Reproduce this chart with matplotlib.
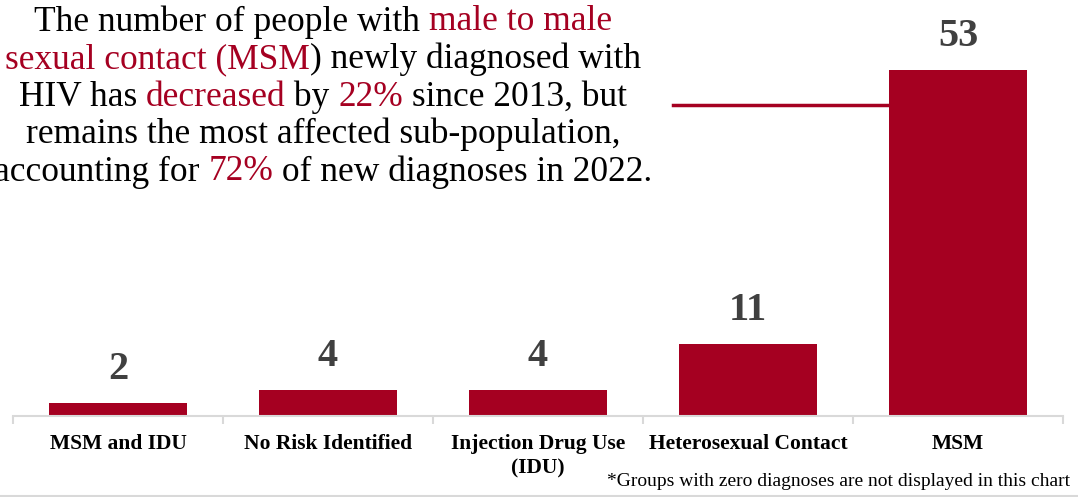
import matplotlib.pyplot as plt
from matplotlib.lines import Line2D

# ----------------------------------------------------------
# data
# ----------------------------------------------------------
categories = ["MSM and IDU", "No Risk Identified", "Injection Drug Use\n(IDU)",
              "Heterosexual Contact", "MSM"]
diagnoses = [2, 4, 4, 11, 53]

RED = "#A50021"
GRAY = "#404040"
SERIF = ["Liberation Serif", "DejaVu Serif"]

# narrative text, split into (text, colour) pieces per line
story = [
    [("The number of people with ", "black"), ("male to male", RED)],
    [("sexual contact (MSM", RED), (") newly diagnosed with", "black")],
    [("HIV has ", "black"), ("decreased", RED), (" by ", "black"),
     ("22%", RED), (" since 2013, but", "black")],
    [("remains the most affected sub-population,", "black")],
    [("accounting for ", "black"), ("72%", RED), (" of new diagnoses in 2022.", "black")],
]

W, H = 1078, 497
fig = plt.figure(figsize=(W / 100, H / 100), dpi=100)

# axes placed in pixel terms: baseline at y=416, categories 210 px apart
ax = fig.add_axes([13 / W, (H - 416) / H, 1050 / W, 416 / H])
x = range(len(categories))
ax.bar(x, diagnoses, width=0.655, color=RED)
ax.set_xlim(-0.5, len(categories) - 0.5)
ax.set_ylim(0, 416 / 6.53)

for i, v in enumerate(diagnoses):
    ax.text(i, v + 2.3, str(v), ha="center", va="bottom", fontsize=29,
            fontweight="bold", color=GRAY, family=SERIF)

for s in ["top", "right", "left"]:
    ax.spines[s].set_visible(False)
ax.spines["bottom"].set_color("#D9D9D9")
ax.spines["bottom"].set_linewidth(1.5)
ax.set_yticks([])
ax.set_xticks([i - 0.5 for i in range(len(categories) + 1)])
ax.set_xticklabels([])
ax.tick_params(axis="x", length=6, width=1.5, color="#D9D9D9")
ax.set_xticks(list(x), minor=True)
ax.set_xticklabels(categories, minor=True, fontsize=15.5, fontweight="bold",
                   family=SERIF, linespacing=1.3)
ax.tick_params(axis="x", which="minor", length=0, pad=13)

# callout line towards the MSM bar
fig.add_artist(Line2D([673 / W, 889 / W], [(H - 105) / H] * 2,
                      color=RED, linewidth=2.5))

# bottom divider
fig.add_artist(Line2D([0, 1], [(H - 495.5) / H] * 2, color="#D9D9D9", linewidth=1.5))

fig.text(1070 / W, (H - 482) / H,
         "*Groups with zero diagnoses are not displayed in this chart",
         ha="right", va="center", fontsize=14, family=SERIF)

# ----------------------------------------------------------
# multi-coloured centred narrative text
# ----------------------------------------------------------
fig.canvas.draw()
renderer = fig.canvas.get_renderer()
cx = 323
y0 = 22
line_gap = 37.5
for k, pieces in enumerate(story):
    texts = []
    widths = []
    for txt, col in pieces:
        t = fig.text(0, 0, txt, fontsize=25.5, color=col, family=SERIF,
                     va="center", ha="left")
        bb = t.get_window_extent(renderer)
        texts.append(t)
        widths.append(bb.width)
    total = sum(widths)
    xp = cx - total / 2
    yp = y0 + k * line_gap
    for t, w in zip(texts, widths):
        t.set_position((xp / W, (H - yp) / H))
        xp += w

fig.savefig("out.png", dpi=100)
